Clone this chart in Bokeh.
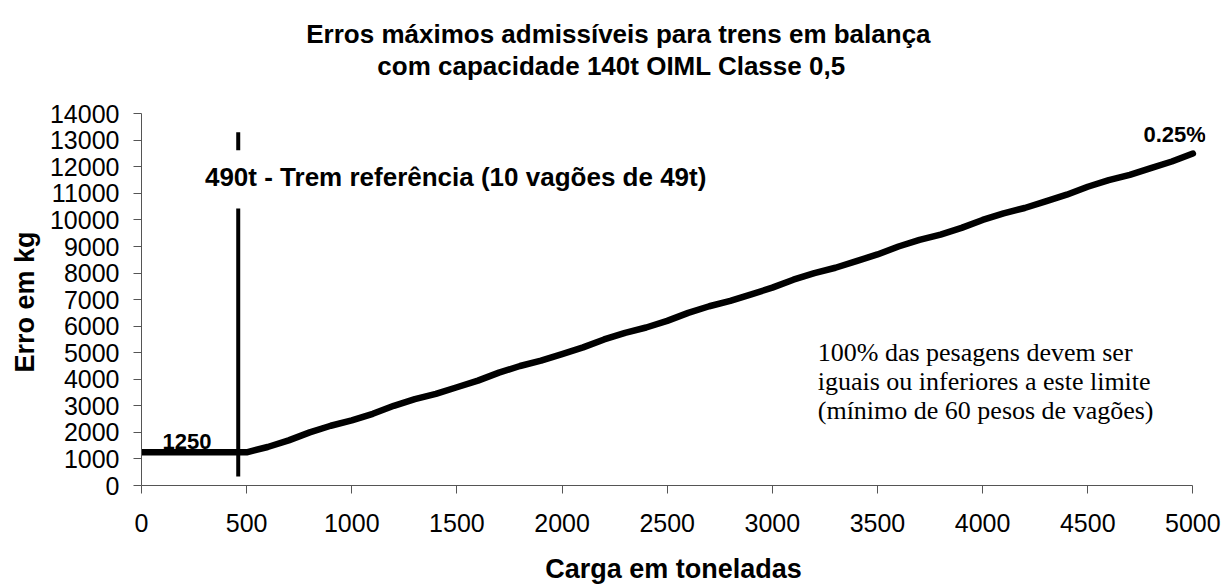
from bokeh.plotting import figure
from bokeh.models import Range1d, Label, FixedTicker, Title
from bokeh.embed import file_html
from bokeh.resources import INLINE

# Data
carga = [0, 100, 200, 300, 400, 500, 600, 700, 800, 900, 1000,
         1100, 1200, 1300, 1400, 1500, 1600, 1700, 1800, 1900, 2000,
         2100, 2200, 2300, 2400, 2500, 2600, 2700, 2800, 2900, 3000,
         3100, 3200, 3300, 3400, 3500, 3600, 3700, 3800, 3900, 4000,
         4100, 4200, 4300, 4400, 4500, 4600, 4700, 4800, 4900, 5000]
erro = [1250, 1250, 1250, 1250, 1250, 1250, 1450, 1700, 2000, 2250, 2450,
        2700, 3000, 3250, 3450, 3700, 3950, 4250, 4500, 4700, 4950,
        5200, 5500, 5750, 5950, 6200, 6500, 6750, 6950, 7200, 7450,
        7750, 8000, 8200, 8450, 8700, 9000, 9250, 9450, 9700, 10000,
        10250, 10450, 10700, 10950, 11250, 11500, 11700, 11950, 12200, 12500]

ref_x = [460, 460]
ref_low = [340, 12620]
ref_high = [10430, 13300]

x_ticks = [0, 500, 1000, 1500, 2000, 2500, 3000, 3500, 4000, 4500, 5000]
y_ticks = [0, 1000, 2000, 3000, 4000, 5000, 6000, 7000, 8000, 9000,
           10000, 11000, 12000, 13000, 14000]

title_lines = ["Erros máximos admissíveis para trens em balança",
               "com capacidade 140t OIML Classe 0,5"]
note_lines = ["100% das pesagens devem ser",
              "iguais ou inferiores a este limite",
              "(mínimo de 60 pesos de vagões)"]
note_y = [5006, 3914, 2823]

FONT = "Liberation Sans"

p = figure(frame_width=1064, frame_height=478, output_backend="svg", toolbar_location=None,
           x_range=Range1d(0, 5060), y_range=Range1d(0, 18000),
           min_border_left=141, min_border_right=22, min_border_top=7,
           min_border_bottom=10)
p.background_fill_color = "white"
p.border_fill_color = "white"
p.outline_line_color = None
p.grid.visible = False

for ax in (p.xaxis[0], p.yaxis[0]):
    ax.axis_line_color = "#555555"
    ax.major_tick_line_color = "#555555"
    ax.minor_tick_line_color = None
    ax.major_tick_in = 0
    ax.major_tick_out = 8
    ax.major_label_text_font = FONT
    ax.major_label_text_font_size = "25px"
    ax.major_label_text_color = "black"
    ax.axis_label_text_font = FONT
    ax.axis_label_text_font_style = "bold"
    ax.axis_label_text_font_size = "27px"
    ax.axis_label_text_color = "black"

p.xaxis.ticker = FixedTicker(ticks=x_ticks)
p.yaxis.ticker = FixedTicker(ticks=y_ticks)
p.xaxis.bounds = (0, 5000)
p.yaxis.bounds = (0, 14000)
p.xaxis.axis_label = "Carga em toneladas"
p.xaxis.major_label_standoff = 20
p.yaxis.major_label_standoff = 14
p.xaxis.axis_label_standoff = 19

# y-axis title, centred on the axis bounds (0..14000)
ylab = Title(text="Erro em kg", align="left", offset=113, vertical_align="top",
             standoff=10, text_font=FONT, text_font_size="27px",
             text_font_style="bold", text_color="black")
p.add_layout(ylab, "left")

# chart titles
p.add_layout(Label(x=2268, y=17020, text=title_lines[0], text_align="center",
                   text_baseline="middle", text_font=FONT, text_font_size="26px",
                   text_font_style="bold", text_color="black"))
p.add_layout(Label(x=2235, y=15780, text=title_lines[1], text_align="center",
                   text_baseline="middle", text_font=FONT, text_font_size="26px",
                   text_font_style="bold", text_color="black"))

# main line
p.line(carga, erro, line_color="black", line_width=6.5, line_join="round", line_cap="round")

# reference line
p.segment(x0=ref_x, y0=ref_low, x1=ref_x, y1=ref_high, line_color="black", line_width=4)

p.add_layout(Label(x=1494, y=11603, text="490t - Trem referência (10 vagões de 49t)",
                   text_align="center", text_baseline="middle", text_font=FONT,
                   text_font_size="26px", text_font_style="bold", text_color="black"))
p.add_layout(Label(x=100, y=1675, text="1250", text_align="left",
                   text_baseline="middle", text_font=FONT,
                   text_font_size="22px", text_font_style="bold", text_color="black"))
p.add_layout(Label(x=4913, y=13200, text="0.25%", text_align="center",
                   text_baseline="middle", text_font=FONT,
                   text_font_size="22px", text_font_style="bold", text_color="black"))
for txt, yy in zip(note_lines, note_y):
    p.add_layout(Label(x=3216, y=yy, text=txt, text_align="left",
                       text_baseline="middle", text_font="Liberation Serif",
                       text_font_size="26px", text_color="black"))

open("out.html", "w").write(file_html(p, INLINE))
